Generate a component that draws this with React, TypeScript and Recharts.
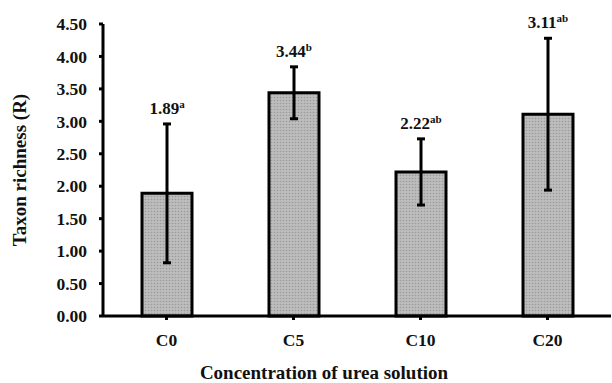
import React from "react";
import {
  BarChart,
  Bar,
  XAxis,
  YAxis,
  ErrorBar,
  LabelList,
} from "recharts";

const categories = ["C0", "C5", "C10", "C20"];
const means = [1.89, 3.44, 2.22, 3.11];
const errors = [1.07, 0.4, 0.51, 1.17];
const letters = ["a", "b", "ab", "ab"];
const yTicks = [0, 0.5, 1, 1.5, 2, 2.5, 3, 3.5, 4, 4.5];

const data = categories.map((name, i) => ({
  name,
  value: means[i],
  err: errors[i],
  letter: letters[i],
}));

const FONT = "'Liberation Serif', 'Times New Roman', serif";

const MeanLabel = (props: any) => {
  const { x, y, width, height, value, index } = props;
  const err = errors[index];
  const errTop = y - (err * height) / value;
  return (
    <text
      x={x + width / 2}
      y={errTop - 10}
      textAnchor="middle"
      fontFamily={FONT}
      fontWeight="bold"
      fontSize={17}
      fill="#111"
    >
      {value.toFixed(2)}
      <tspan fontSize={11} dy={-6}>
        {letters[index]}
      </tspan>
    </text>
  );
};

export default function App() {
  return (
    <div style={{ position: "absolute", left: 0, top: 0, width: 612, height: 383, background: "#fff" }}>
      <BarChart
        width={612}
        height={383}
        data={data}
        margin={{ top: 24, right: 1, bottom: 0, left: 0 }}
      >
        <defs>
          <pattern id="dots" width="3" height="3" patternUnits="userSpaceOnUse">
            <rect width="3" height="3" fill="#bdbdbd" />
            <circle cx="1.5" cy="1.5" r="0.8" fill="#9a9a9a" />
          </pattern>
        </defs>
        <XAxis
          dataKey="name"
          height={67}
          axisLine={{ stroke: "#000", strokeWidth: 3 }}
          tickLine={{ stroke: "#000", strokeWidth: 3 }}
          tickSize={4}
          tick={{ fill: "#111", fontFamily: FONT, fontWeight: "bold", fontSize: 17.5, dy: 12 }}
          label={{
            value: "Concentration of urea solution",
            position: "insideBottom",
            offset: 4,
            dx: -33,
            fill: "#111",
            fontFamily: FONT,
            fontWeight: "bold",
            fontSize: 19,
          }}
        />
        <YAxis
          domain={[0, 4.5]}
          ticks={yTicks}
          width={103}
          interval={0}
          tickFormatter={(v: number) => v.toFixed(2)}
          axisLine={{ stroke: "#000", strokeWidth: 3 }}
          tickLine={{ stroke: "#000", strokeWidth: 3 }}
          tickSize={4}
          tickMargin={12}
          tick={{ fill: "#111", fontFamily: FONT, fontWeight: "bold", fontSize: 17.5 }}
          label={{
            value: "Taxon richness (R)",
            angle: -90,
            position: "insideLeft",
            offset: 0,
            dx: 19,
            style: { textAnchor: "middle" },
            fill: "#111",
            fontFamily: FONT,
            fontWeight: "bold",
            fontSize: 19,
          }}
        />
        <Bar
          dataKey="value"
          fill="url(#dots)"
          stroke="#000"
          strokeWidth={3}
          barSize={50}
          isAnimationActive={false}
        >
          <ErrorBar dataKey="err" stroke="#000" strokeWidth={3} width={4} />
          <LabelList dataKey="value" content={<MeanLabel />} />
        </Bar>
      </BarChart>
    </div>
  );
}
